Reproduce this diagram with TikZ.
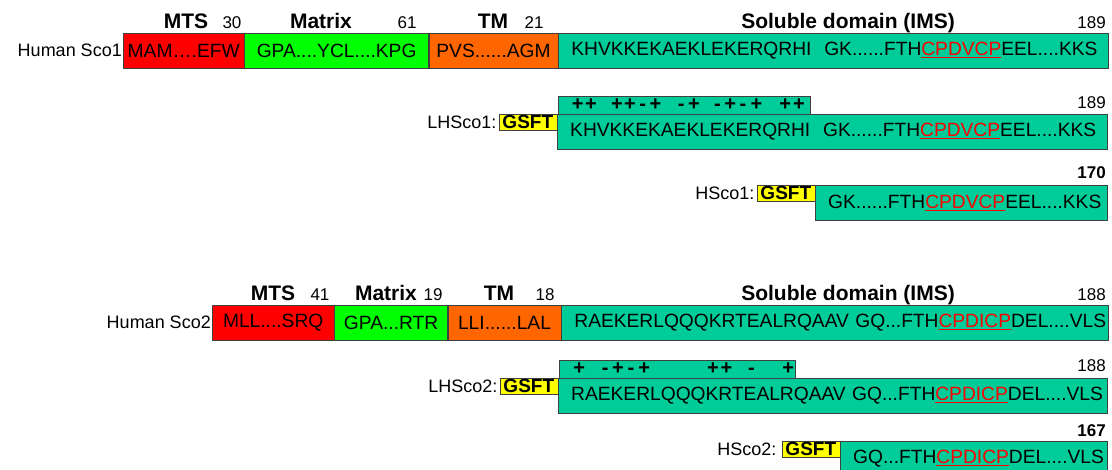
\documentclass[tikz,border=0pt]{standalone}
\usepackage{fontspec}
\setmainfont{Liberation Sans}
\usepackage{calc}
\usetikzlibrary{positioning}
\definecolor{mtsred}{RGB}{255,0,0}
\definecolor{matgreen}{RGB}{0,255,0}
\definecolor{tmorange}{RGB}{255,102,0}
\definecolor{imsteal}{RGB}{0,204,153}
\definecolor{tagyellow}{RGB}{255,255,0}
\newcommand{\seqsize}{\fontsize{19.2}{22}\selectfont}
\newcommand{\chg}[2]{\makebox[\widthof{\seqsize\mdseries #1}]{#2}}
\newcommand{\motif}[1]{\textcolor{red}{\underline{#1}}}

\begin{document}
\begin{tikzpicture}[
    x=1pt, y=-1pt,
    seg/.style={draw=black!75, fill=#1, minimum height=35pt, inner sep=0pt, font=\seqsize, anchor=north west},
    sol/.style={seg=imsteal, text width=#1, inner xsep=13pt, align=left,
        execute at begin node={\leavevmode\hbox\bgroup}, execute at end node={\egroup}},
    charge/.style={draw=black!75, fill=imsteal, minimum height=18pt, inner ysep=0pt, inner xsep=13pt, text width=#1, align=left, anchor=south west, font=\bfseries\fontsize{20}{18}\selectfont},
    tag/.style={draw=black!75, fill=tagyellow, minimum width=58pt, minimum height=16pt, inner sep=0pt, font=\bfseries\fontsize{19}{19}\selectfont},
    lbl/.style={font=\fontsize{18}{20}\selectfont, inner sep=1pt},
    hdr/.style={font=\bfseries\fontsize{21}{23}\selectfont, anchor=base, inner sep=0pt},
    num/.style={font=\fontsize{17}{19}\selectfont, anchor=base, inner sep=0pt},
    numr/.style={num, anchor=base east},
]
\clip (0,0) rectangle (1112,470);

% Human Sco1
\node[seg=mtsred, minimum width=121pt] (mts1) at (123,33) {MAM….EFW};
\node[seg=matgreen, minimum width=184pt, right=0pt of mts1] (mat1) {GPA....YCL....KPG};
\node[seg=tmorange, minimum width=129pt, right=0pt of mat1] (tm1) {PVS......AGM};
\node[sol=524pt, right=0pt of tm1] (sol1) {KHVKKEKAEKLEKERQRHI\ \ GK......FTH\motif{CPDVCP}EEL....KKS};
\node[lbl, left=0pt of mts1] (name1) {Human Sco1};
\node[hdr] at (186,29) {MTS};
\node[num] at (232,29) {30};
\node[hdr] at (321,29) {Matrix};
\node[num] at (407,29) {61};
\node[hdr] at (493,29) {TM};
\node[num] at (534,29) {21};
\node[hdr] at (848,29) {Soluble domain (IMS)};
\node[numr] at (1106,29) {189};

% LHSco1
\node[sol=524pt] (lsol1) at (557,114) {KHVKKEKAEKLEKERQRHI\ \ GK......FTH\motif{CPDVCP}EEL....KKS};
\node[charge=226pt] (lchg1) at (558,114) {\chg{K}{+}\chg{H}{+}\chg{V}{}\chg{K}{+}\chg{K}{+}\chg{E}{-}\chg{K}{+}\chg{A}{}\chg{E}{-}\chg{K}{+}\chg{L}{}\chg{E}{-}\chg{K}{+}\chg{E}{-}\chg{R}{+}\chg{Q}{}\chg{R}{+}\chg{H}{+}};
\node[tag, left=0pt of lsol1.north west, anchor=north east] (ltag1) {GSFT};
\node[lbl, left=1pt of ltag1] (lname1) {LHSco1:};
\node[numr] at (1106,109) {189};

% HSco1
\node[sol=266pt] (hsol1) at (815,185) {GK......FTH\motif{CPDVCP}EEL....KKS};
\node[tag, left=0pt of hsol1.north west, anchor=north east] (htag1) {GSFT};
\node[lbl, left=1pt of htag1] (hname1) {HSco1:};
\node[numr, font=\bfseries\fontsize{17}{19}\selectfont] at (1106,179) {170};

% Human Sco2
\node[seg=mtsred, minimum width=122pt] (mts2) at (212,305) {MLL....SRQ};
\node[seg=matgreen, minimum width=113pt, right=0pt of mts2] (mat2) {GPA...RTR};
\node[seg=tmorange, minimum width=113pt, right=0pt of mat2] (tm2) {LLI......LAL};
\node[sol=521pt, right=0pt of tm2] (sol2) {RAEKERLQQQKRTEALRQAAV GQ...FTH\motif{CPDICP}DEL....VLS};
\node[lbl, left=0pt of mts2] (name2) {Human Sco2};
\node[hdr] at (273,301) {MTS};
\node[num] at (320,301) {41};
\node[hdr] at (386,301) {Matrix};
\node[num] at (433,301) {19};
\node[hdr] at (499,301) {TM};
\node[num] at (545,301) {18};
\node[hdr] at (848,301) {Soluble domain (IMS)};
\node[numr] at (1106,301) {188};

% LHSco2
\node[sol=523pt] (lsol2) at (558,378) {RAEKERLQQQKRTEALRQAAV GQ...FTH\motif{CPDICP}DEL....VLS};
\node[charge=210pt] (lchg2) at (559,378) {\chg{R}{+}\chg{A}{}\chg{E}{-}\chg{K}{+}\chg{E}{-}\chg{R}{+}\chg{L}{}\chg{Q}{}\chg{Q}{}\chg{Q}{}\chg{K}{+}\chg{R}{+}\chg{T}{}\chg{E}{-}\chg{A}{}\chg{L}{}\chg{R}{+}};
\node[tag, left=0pt of lsol2.north west, anchor=north east] (ltag2) {GSFT};
\node[lbl, left=1pt of ltag2] (lname2) {LHSco2:};
\node[numr] at (1106,372) {188};

% HSco2
\node[sol=241pt] (hsol2) at (840,441) {GQ...FTH\motif{CPDICP}DEL....VLS};
\node[tag, left=0pt of hsol2.north west, anchor=north east] (htag2) {GSFT};
\node[lbl, left=4pt of htag2] (hname2) {HSco2:};
\node[numr, font=\bfseries\fontsize{17}{19}\selectfont] at (1106,436) {167};
\end{tikzpicture}
\end{document}
